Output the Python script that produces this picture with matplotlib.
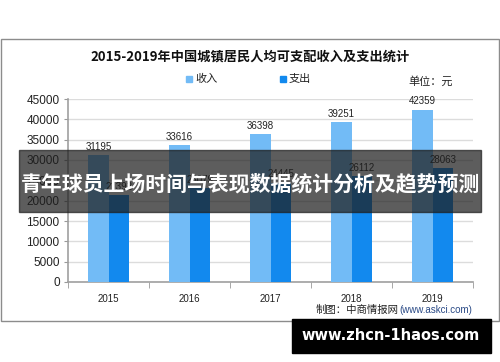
import matplotlib
matplotlib.use("Agg")
import matplotlib.pyplot as plt
from matplotlib.patches import Rectangle

plt.rcParams['font.family'] = ['Noto Sans CJK SC', 'DejaVu Sans']

# data
years = ['2015', '2016', '2017', '2018', '2019']
income = [31195, 33616, 36398, 39251, 42359]
spend = [21392, 23079, 24445, 26112, 28063]
series_names = ['收入', '支出']
title = '2015-2019年中国城镇居民人均可支配收入及支出统计'
banner = '青年球员上场时间与表现数据统计分析及趋势预测'
site = 'www.zhcn-1haos.com'

W, H = 500, 362
c_inc = '#72bbf6'
c_sp = '#1289ee'
num_font = 'Liberation Sans'


def fx(x):
    return x / W


def fy(y):
    return 1 - y / H


fig = plt.figure(figsize=(5, 3.62), dpi=100)
fig.patch.set_facecolor('white')

# outer frame
fig.patches.append(Rectangle((fx(1), fy(321)), fx(498), (321 - 39) / H,
                             transform=fig.transFigure, fill=False,
                             edgecolor='#8c8c8c', lw=1))

ax = fig.add_axes([fx(68), fy(282), fx(473 - 68), (282 - 99) / H])
x = list(range(len(years)))
bw = 0.25
ax.bar([i - bw / 2 for i in x], income, bw, color=c_inc, zorder=3)
ax.bar([i + bw / 2 for i in x], spend, bw, color=c_sp, zorder=3)
for i in x:
    ax.text(i - bw / 2, income[i] + 800, str(income[i]), ha='center', va='bottom',
            fontsize=7, color='#222222', family=num_font)
    ax.text(i + bw / 2, spend[i] + 800, str(spend[i]), ha='center', va='bottom',
            fontsize=7, color='#222222', family=num_font)

ax.set_xlim(-0.5, len(years) - 0.5)
ax.set_ylim(0, 45000)
ax.set_yticks(range(0, 45001, 5000))
ax.set_yticklabels([str(v) for v in range(0, 45001, 5000)], fontsize=8.5,
                   family=num_font, color='#222222')
ax.set_xticks(x)
ax.set_xticklabels(years, fontsize=7, family=num_font, color='#222222')
ax.tick_params(axis='x', which='major', length=0, pad=9)
ax.set_xticks([i - 0.5 for i in range(len(years) + 1)], minor=True)
ax.tick_params(axis='x', which='minor', length=4, color='#999999')
ax.tick_params(axis='y', length=3, color='#999999', pad=3)
ax.grid(axis='y', color='#dcdcdc', lw=1, zorder=0)
for s in ['top', 'right']:
    ax.spines[s].set_visible(False)
for s in ['left', 'bottom']:
    ax.spines[s].set_color('#a0a0a0')
    ax.spines[s].set_linewidth(1.2)

# title
fig.text(fx(250), fy(57), title, ha='center', va='center', fontsize=9.5,
         fontweight='bold', color='#111111')

# legend
for px, col, name in [(188, c_inc, series_names[0]), (282, c_sp, series_names[1])]:
    fig.patches.append(Rectangle((fx(px - 2), fy(82)), fx(6), 6 / H,
                                 transform=fig.transFigure, color=col))
    fig.text(fx(px + 7), fy(79), name, ha='left', va='center', fontsize=8,
             color='#222222')
fig.text(fx(408), fy(81), '单位：元', ha='left', va='center', fontsize=8,
         color='#222222')

# source
fig.text(fx(399), fy(310), '制图：中商情报网', ha='right', va='center',
         fontsize=7.5, color='#222222')
fig.text(fx(399), fy(310), '(www.askci.com)', ha='left', va='center',
         fontsize=7, color='#2a4a86', family=num_font)

# dark banner overlay
fig.patches.append(Rectangle((fx(19), fy(212)), fx(481 - 19), (212 - 150) / H,
                             transform=fig.transFigure, color='#1e1e1e',
                             alpha=0.72, zorder=10))
fig.text(fx(250), fy(184), banner, ha='center', va='center', fontsize=15,
         fontweight='bold', color='white', zorder=11)

# bottom site box
fig.patches.append(Rectangle((fx(292), fy(353)), fx(491 - 292), (353 - 319) / H,
                             transform=fig.transFigure, color='black', zorder=10))
fig.text(fx(391), fy(336), site, ha='center', va='center', fontsize=10.5,
         fontweight='bold', color='white', family='DejaVu Sans', zorder=11)

fig.savefig('out.png', dpi=100)
